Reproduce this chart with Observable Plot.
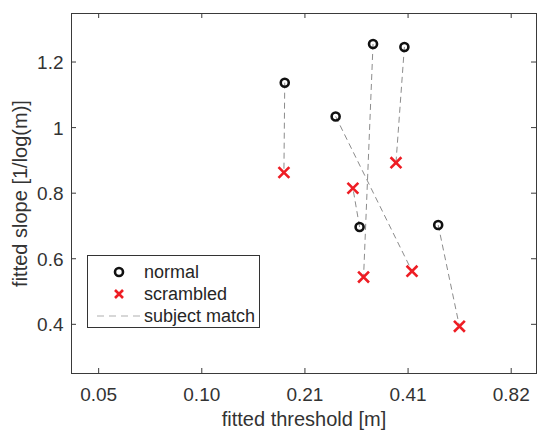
<!DOCTYPE html>
<html>
<head>
<meta charset="utf-8">
<script src="https://cdn.jsdelivr.net/npm/d3@7"></script>
<script src="https://cdn.jsdelivr.net/npm/@observablehq/plot@0.6"></script>
<style>
  html, body { margin: 0; padding: 0; background: #fff; }
  #wrap { position: relative; width: 537px; height: 432px; font-family: "Liberation Sans", Arial, sans-serif; }
  #legend { position: absolute; left: 87px; top: 255px; width: 173px; height: 73px; border: 1px solid #333; background: #fff; box-sizing: border-box; }
  #legend .row { position: absolute; left: 0; height: 22px; display: flex; align-items: center; font-size: 18px; color: #262626; white-space: nowrap; }
  #legend svg { display: block; }
</style>
</head>
<body>
<div id="wrap"></div>
<script>
// ---- data ----
const normalThreshold    = [0.179, 0.324, 0.400, 0.252, 0.296, 0.502];
const normalSlope        = [1.137, 1.255, 1.246, 1.034, 0.697, 0.703];
const scrambledThreshold = [0.178, 0.304, 0.378, 0.421, 0.283, 0.579];
const scrambledSlope     = [0.863, 0.544, 0.893, 0.562, 0.815, 0.394];

const xTicks      = [0.05125, 0.1025, 0.205, 0.41, 0.82];
const xTickLabels = ["0.05", "0.10", "0.21", "0.41", "0.82"];
const yTicks      = [0.4, 0.6, 0.8, 1.0, 1.2];
const yTickLabels = ["0.4", "0.6", "0.8", "1", "1.2"];

const seriesNames = ["normal", "scrambled", "subject match"];
const xLabel = "fitted threshold [m]";
const yLabel = "fitted slope [1/log(m)]";

// ---- tables built from arrays ----
const normal = normalThreshold.map((t, i) => ({threshold: t, slope: normalSlope[i]}));
const scrambled = scrambledThreshold.map((t, i) => ({threshold: t, slope: scrambledSlope[i]}));
const pairs = normal.map((n, i) => ({x1: n.threshold, y1: n.slope, x2: scrambled[i].threshold, y2: scrambled[i].slope}));
const xTickTable = xTicks.map((v, i) => ({value: v, label: xTickLabels[i]}));
const yTickTable = yTicks.map((v, i) => ({value: v, label: yTickLabels[i]}));

const W = 537, H = 432;
const mL = 71, mR = 1, mT = 13, mB = 59;
const innerW = W - mL - mR, innerH = H - mT - mB;
const textColor = "#333";
const redColor = "#ee1d24";
const axisColor = "#3a3a3a";

const plot = Plot.plot({
  width: W, height: H,
  marginLeft: mL, marginRight: mR, marginTop: mT, marginBottom: mB,
  style: {fontFamily: "'Liberation Sans', Arial, sans-serif", color: textColor, background: "#fff", overflow: "visible"},
  x: {type: "log", domain: [0.0427, 0.972], axis: null},
  y: {type: "linear", domain: [0.25, 1.348], axis: null},
  marks: [
    // tick labels
    Plot.text(xTickTable, {x: "value", text: "label", frameAnchor: "bottom", lineAnchor: "middle", dy: 21, fontSize: 19, fill: textColor}),
    Plot.text(yTickTable, {y: "value", text: "label", frameAnchor: "left", textAnchor: "end", lineAnchor: "middle", dx: -8, dy: 1, fontSize: 19, fill: textColor}),
    // inward ticks on all four sides
    Plot.tickX(xTicks, {x: (d) => d, stroke: axisColor, insetTop: innerH - 5}),
    Plot.tickX(xTicks, {x: (d) => d, stroke: axisColor, insetBottom: innerH - 5}),
    Plot.tickY(yTicks, {y: (d) => d, stroke: axisColor, insetRight: innerW - 5}),
    Plot.tickY(yTicks, {y: (d) => d, stroke: axisColor, insetLeft: innerW - 5}),
    Plot.frame({stroke: axisColor}),
    // axis titles
    Plot.text([xLabel], {text: (d) => d, frameAnchor: "bottom", lineAnchor: "middle", textAnchor: "middle", dy: 46, fontSize: 20, fill: textColor}),
    Plot.text([yLabel], {text: (d) => d, frameAnchor: "left", lineAnchor: "middle", textAnchor: "middle", dx: -51, rotate: -90, fontSize: 20, fill: textColor}),
    // subject match lines
    Plot.link(pairs, {x1: "x1", y1: "y1", x2: "x2", y2: "y2", stroke: "#8c8c8c", strokeWidth: 1, strokeDasharray: "6,4"}),
    // points
    Plot.dot(normal, {x: "threshold", y: "slope", r: 4, stroke: "#111", strokeWidth: 2.6, fill: "none"}),
    Plot.dot(scrambled, {x: "threshold", y: "slope", symbol: "times", r: 5, stroke: redColor, strokeWidth: 2.6})
  ]
});

const wrap = document.getElementById("wrap");
wrap.appendChild(plot);

// legend (inside the axes, as in the reference)
const legend = document.createElement("div");
legend.id = "legend";
const symbols = [
  `<svg width="60" height="22"><circle cx="31" cy="11" r="4" fill="none" stroke="#111" stroke-width="2.6"/></svg>`,
  `<svg width="60" height="22"><path d="M27,7L35,15M35,7L27,15" stroke="${redColor}" stroke-width="2.6"/></svg>`,
  `<svg width="60" height="22"><line x1="9" y1="11" x2="52" y2="11" stroke="#b0b0b0" stroke-width="1.2" stroke-dasharray="7,5"/></svg>`
];
const rowTops = [5, 27, 49];
seriesNames.forEach((name, i) => {
  const row = document.createElement("div");
  row.className = "row";
  row.style.top = rowTops[i] + "px";
  row.innerHTML = symbols[i] + `<span style="margin-left:-4px">${name}</span>`;
  legend.appendChild(row);
});
wrap.appendChild(legend);
</script>
</body>
</html>
